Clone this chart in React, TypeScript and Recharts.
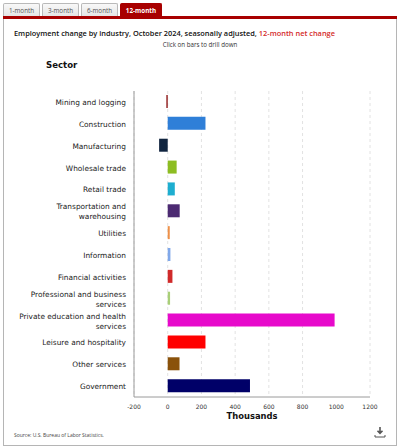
import React from "react"
import { BarChart, Bar, XAxis, YAxis, CartesianGrid, Cell } from "recharts"

const sectors = [
  "Mining and logging",
  "Construction",
  "Manufacturing",
  "Wholesale trade",
  "Retail trade",
  "Transportation and warehousing",
  "Utilities",
  "Information",
  "Financial activities",
  "Professional and business services",
  "Private education and health services",
  "Leisure and hospitality",
  "Other services",
  "Government",
]

// 12-month net change, thousands
const changes = [-8, 224, -51, 53, 42, 71, 12, 16, 28, 14, 990, 224, 70, 488]

const xTicks = [-200, 0, 200, 400, 600, 800, 1000, 1200]

const tabs = ["1-month", "3-month", "6-month", "12-month"]

const barColors = [
  "#8b1010",
  "#2f7fd8",
  "#10243f",
  "#8dbd22",
  "#1eaed0",
  "#4c2a72",
  "#ee9048",
  "#80a8ea",
  "#d02a2a",
  "#a9cf78",
  "#e70acb",
  "#ff0000",
  "#8a520b",
  "#000068",
]

const data = sectors.map((name, i) => ({ name, value: changes[i] }))

const font = "'Open Sans', 'DejaVu Sans', sans-serif"
const axisFont = "'DejaVu Sans', Verdana, sans-serif"

function wrap(label: string, max: number): string[] {
  const words = label.split(" ")
  const lines: string[] = []
  let cur = ""
  for (const w of words) {
    const next = cur ? cur + " " + w : w
    if (next.length > max && cur) {
      lines.push(cur)
      cur = w
    } else {
      cur = next
    }
  }
  if (cur) lines.push(cur)
  return lines
}

const SectorTick = (props: any) => {
  const { x, y, payload } = props
  const lines = wrap(payload.value, 29)
  const lh = 10
  const start = y - ((lines.length - 1) * lh) / 2
  return (
    <text x={x} y={start} textAnchor="end" fontSize={7.4} fill="#222" fontFamily={axisFont} dominantBaseline="central">
      {lines.map((l, i) => (
        <tspan key={i} x={x} y={start + i * lh}>
          {l}
        </tspan>
      ))}
    </text>
  )
}

const tabStyle = (active: boolean, left: number, width: number): React.CSSProperties => ({
  position: "absolute",
  left,
  top: 3,
  width,
  height: 14,
  boxSizing: "border-box",
  border: active ? "1px solid #a80000" : "1px solid #b9b9b9",
  borderBottom: "none",
  borderRadius: "2px 2px 0 0",
  background: active ? "#a80000" : "linear-gradient(#f8f8f8, #e4e4e4)",
  color: active ? "#fff" : "#555",
  fontWeight: active ? 700 : 400,
  fontSize: 6.3,
  lineHeight: "13px",
  textAlign: "center",
  fontFamily: font,
})

const tabPos = [
  [3, 37],
  [42, 37],
  [81, 37],
  [120, 42],
]

export default function App() {
  return (
    <div style={{ position: "absolute", left: 0, top: 0, width: 400, height: 448, background: "#fff", fontFamily: font }}>
      {tabs.map((t, i) => (
        <div key={t} style={tabStyle(i === 3, tabPos[i][0], tabPos[i][1])}>
          {t}
        </div>
      ))}
      <div style={{ position: "absolute", left: 3, top: 16, width: 394, height: 3, background: "#a80000" }} />
      <div
        style={{
          position: "absolute",
          left: 3,
          top: 19,
          width: 394,
          height: 427,
          boxSizing: "border-box",
          border: "1px solid #b5b5b5",
          borderTop: "none",
        }}
      />
      <div style={{ position: "absolute", left: 14, top: 28, fontSize: 7.4, fontWeight: 600, color: "#111", whiteSpace: "nowrap" }}>
        Employment change by industry, October 2024, seasonally adjusted, <span style={{ color: "#d42a2a" }}>12-month net change</span>
      </div>
      <div style={{ position: "absolute", left: 0, width: 400, top: 40, fontSize: 6.2, color: "#333", textAlign: "center" }}>
        Click on bars to drill down
      </div>
      <div style={{ position: "absolute", left: 46, top: 60, fontSize: 8.6, fontWeight: 700, color: "#111", fontFamily: axisFont }}>Sector</div>

      <div style={{ position: "absolute", left: 0, top: 0 }}>
        <BarChart
          width={400}
          height={448}
          data={data}
          layout="vertical"
          margin={{ top: 91, right: 30, bottom: 31, left: 0 }}
          barSize={13}
        >
          <CartesianGrid horizontal={false} vertical={true} stroke="#e2e2e2" strokeDasharray="3 3" />
          <XAxis
            type="number"
            domain={[-200, 1200]}
            ticks={xTicks}
            tickLine={false}
            axisLine={{ stroke: "#9a9a9a" }}
            tick={{ fontSize: 6, fill: "#333", fontFamily: axisFont }}
            tickMargin={2}
            height={20}
          />
          <YAxis
            type="category"
            dataKey="name"
            width={134}
            tickLine={false}
            axisLine={{ stroke: "#9a9a9a" }}
            tick={<SectorTick />}
            interval={0}
          />
          <Bar dataKey="value" isAnimationActive={false}>
            {data.map((d, i) => (
              <Cell key={d.name} fill={barColors[i]} />
            ))}
          </Bar>
        </BarChart>
      </div>

      <div style={{ position: "absolute", left: 134, width: 236, top: 411, fontSize: 8.4, fontWeight: 700, color: "#111", textAlign: "center", fontFamily: axisFont }}>
        Thousands
      </div>
      <div style={{ position: "absolute", left: 14, top: 432, fontSize: 5, color: "#444" }}>Source: U.S. Bureau of Labor Statistics.</div>
      <svg style={{ position: "absolute", left: 374, top: 426 }} width={12} height={12} viewBox="0 0 12 12">
        <path d="M6 1 V7 M3.5 4.8 L6 7.4 L8.5 4.8" stroke="#555" strokeWidth={1.6} fill="none" />
        <path d="M1 9 V11 H11 V9" stroke="#555" strokeWidth={1} fill="none" />
      </svg>
    </div>
  )
}
